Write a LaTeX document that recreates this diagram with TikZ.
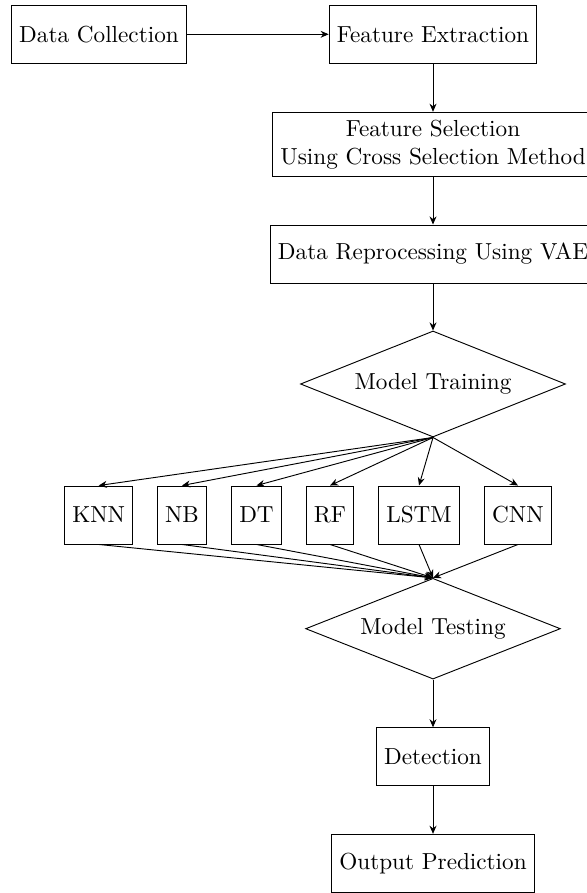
\documentclass[tikz,border=0pt]{standalone}
\usetikzlibrary{shapes.geometric,arrows.meta}
\begin{document}
\begin{tikzpicture}[x=0.431pt,y=-0.431pt,
  box/.style={draw, rectangle, minimum height=25pt, inner sep=0.3333em, align=center},
  decision/.style={draw, diamond, shape aspect=2.5, inner sep=0pt},
  flow/.style={-{Stealth[length=3.5pt,width=3pt]}},
]
\useasboundingbox (0,0) rectangle (586,893);

% main pipeline
\node[box] (dc)  at (99,34.3)    {Data Collection};
\node[box] (fe)  at (433,34.3)   {Feature Extraction};
\node[box] (fs)  at (433,144.5)  {Feature Selection\\Using Cross Selection Method};
\node[box] (vae) at (433,254)    {Data Reprocessing Using VAE};
\node[decision, minimum width=114.2pt, minimum height=45.7pt] (train) at (433,384) {Model Training};

% candidate models
\node[box] (knn)  at (98.7,515)  {KNN};
\node[box] (nb)   at (182,515)   {NB};
\node[box] (dt)   at (256.5,515) {DT};
\node[box] (rf)   at (330,515)   {RF};
\node[box] (lstm) at (419,515)   {LSTM};
\node[box] (cnn)  at (518,515)   {CNN};

\node[decision, minimum width=109.8pt, minimum height=43.4pt] (test) at (433,628.7) {Model Testing};
\node[box] (det) at (433,756.8) {Detection};
\node[box] (out) at (433,863.3) {Output Prediction};

% connectors
\draw[flow] (dc) -- (fe);
\draw[flow] (fe) -- (fs);
\draw[flow] (fs) -- (vae);
\draw[flow] (vae) -- (train);
\foreach \m in {knn,nb,dt,rf,lstm,cnn}{
  \draw[flow] (train.south) -- (\m.north);
  \draw[flow] (\m.south) -- (test.north);
}
\draw[flow] (test) -- (det);
\draw[flow] (det) -- (out);
\end{tikzpicture}
\end{document}
